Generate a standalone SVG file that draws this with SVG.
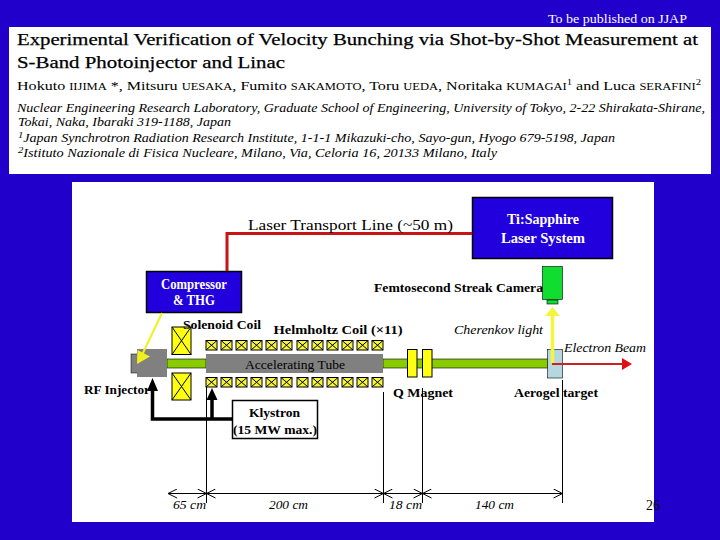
<svg xmlns="http://www.w3.org/2000/svg" width="720" height="540" viewBox="0 0 720 540">
<defs>
<style>
text{font-family:"Liberation Serif","DejaVu Serif",serif;fill:#000}
.hd{font-size:17px;stroke:#000;stroke-width:.25}
.au{font-size:13.5px}
.af{font-size:12px;font-style:italic}
.sc{font-size:10.5px}
.sup{font-size:9px}
.lb{font-size:13px;font-weight:bold}
.it{font-size:12.5px;font-style:italic}
.wt{fill:#fff;font-size:14px;font-weight:bold}
.coil{fill:#f5f53c;stroke:#000;stroke-width:1}
.big{fill:#ffff14;stroke:#000;stroke-width:1}
.gray{fill:#808080}
.pipe{fill:#88cc00;stroke:#000;stroke-width:.6}
.dim{stroke:#000;stroke-width:1;fill:none}
.box{fill:#2200dd;stroke:#000;stroke-width:1.5}
</style>
<marker id="o" viewBox="0 0 10 10" refX="10" refY="5" markerWidth="10" markerHeight="10" orient="auto-start-reverse" markerUnits="userSpaceOnUse"><path d="M1 .5L10 5L1 9.500" fill="none" stroke="#000" stroke-width="1"/></marker>
<g id="c"><rect class="coil" x="0" y="0" width="11" height="9.500"/><path d="M0 0L11 9.500M11 0L0 9.500" stroke="#000" stroke-width="1"/></g>
</defs>
<rect width="720" height="540" fill="#2200cc"/>
<rect x="9" y="27" width="702" height="147" fill="#fff"/>
<rect x="72" y="182" width="582" height="340" fill="#fff"/>
<text x="548" y="23" font-size="13" style="fill:#fff" textLength="139" lengthAdjust="spacingAndGlyphs">To be published on JJAP</text>
<g id="header">
<text class="hd" x="17" y="45" textLength="681" lengthAdjust="spacingAndGlyphs">Experimental Verification of Velocity Bunching via Shot-by-Shot Measurement at</text>
<text class="hd" x="17" y="68" textLength="268" lengthAdjust="spacingAndGlyphs">S-Band Photoinjector and Linac</text>
<text class="au" x="17" y="90" textLength="684" lengthAdjust="spacingAndGlyphs">Hokuto <tspan class="sc">IIJIMA</tspan> *, Mitsuru <tspan class="sc">UESAKA</tspan>, Fumito <tspan class="sc">SAKAMOTO</tspan>, Toru <tspan class="sc">UEDA</tspan>, Noritaka <tspan class="sc">KUMAGAI</tspan><tspan class="sup" dy="-5">1</tspan><tspan dy="5"> and Luca </tspan><tspan class="sc">SERAFINI</tspan><tspan class="sup" dy="-5">2</tspan></text>
<text class="af" x="17" y="112" textLength="688" lengthAdjust="spacingAndGlyphs">Nuclear Engineering Research Laboratory, Graduate School of Engineering, University of Tokyo, 2-22 Shirakata-Shirane,</text>
<text class="af" x="18" y="126" textLength="213" lengthAdjust="spacingAndGlyphs">Tokai, Naka, Ibaraki 319-1188, Japan</text>
<text class="af" x="18" y="142" textLength="597" lengthAdjust="spacingAndGlyphs"><tspan class="sup" dy="-4">1</tspan><tspan dy="4">Japan Synchrotron Radiation Research Institute, 1-1-1 Mikazuki-cho, Sayo-gun, Hyogo 679-5198, Japan</tspan></text>
<text class="af" x="18" y="157" textLength="479" lengthAdjust="spacingAndGlyphs"><tspan class="sup" dy="-4">2</tspan><tspan dy="4">Istituto Nazionale di Fisica Nucleare, Milano, Via, Celoria 16, 20133 Milano, Italy</tspan></text>
</g>
<g id="beamline">
<rect class="pipe" x="167" y="359" width="39" height="9"/>
<rect class="pipe" x="383" y="359" width="165" height="9"/>
</g>
<g id="rf-injector"><rect class="gray" x="131" y="354" width="8" height="19" stroke="#000" stroke-width=".5"/><rect class="gray" x="137" y="349" width="30" height="28"/></g>
<g id="tube"><rect class="gray" x="206" y="354" width="177" height="19"/><text x="245" y="369" font-size="13" textLength="100" lengthAdjust="spacingAndGlyphs">Accelerating Tube</text></g>
<g id="compressor"><rect class="box" x="146.500" y="271.500" width="95" height="41"/><text class="wt" x="161" y="289" textLength="66" lengthAdjust="spacingAndGlyphs">Compressor</text><text class="wt" x="173" y="305" textLength="42" lengthAdjust="spacingAndGlyphs">&amp; THG</text></g>
<g id="laser"><rect class="box" x="472.500" y="197.500" width="140" height="61"/><text class="wt" x="507" y="224" font-size="15" textLength="72" lengthAdjust="spacingAndGlyphs">Ti:Sapphire</text><text class="wt" x="501" y="243" textLength="84" lengthAdjust="spacingAndGlyphs">Laser System</text></g>
<g id="camera"><rect x="542.500" y="266.500" width="20" height="33" fill="#10dd30" stroke="#000" stroke-width=".6"/><rect x="547" y="300" width="11" height="4" fill="#10dd30" stroke="#000" stroke-width=".6"/></g>
<g id="solenoid">
<rect class="big" x="172" y="327" width="19" height="27.500"/><path d="M172 327L191 354.500M191 327L172 354.500" stroke="#000"/>
<rect class="big" x="172" y="373" width="19" height="27"/><path d="M172 373L191 400M191 373L172 400" stroke="#000"/>
</g>
<g id="helmholtz-top">
<use href="#c" x="206" y="340.500"/><use href="#c" x="221" y="340.500"/><use href="#c" x="236" y="340.500"/><use href="#c" x="251" y="340.500"/><use href="#c" x="266" y="340.500"/><use href="#c" x="281" y="340.500"/><use href="#c" x="297" y="340.500"/><use href="#c" x="312" y="340.500"/><use href="#c" x="327" y="340.500"/><use href="#c" x="342" y="340.500"/><use href="#c" x="357" y="340.500"/><use href="#c" x="372" y="340.500"/>
</g>
<g id="helmholtz-bottom">
<use href="#c" x="206" y="377.500"/><use href="#c" x="221" y="377.500"/><use href="#c" x="236" y="377.500"/><use href="#c" x="251" y="377.500"/><use href="#c" x="266" y="377.500"/><use href="#c" x="281" y="377.500"/><use href="#c" x="297" y="377.500"/><use href="#c" x="312" y="377.500"/><use href="#c" x="327" y="377.500"/><use href="#c" x="342" y="377.500"/><use href="#c" x="357" y="377.500"/><use href="#c" x="372" y="377.500"/>
</g>
<g id="q-magnet"><rect class="big" x="407.500" y="349.500" width="9.500" height="27.500"/><rect class="big" x="422.500" y="349.500" width="9.500" height="27.500"/></g>
<g id="aerogel"><rect x="547.500" y="349.500" width="15" height="28.500" fill="#b5d8e0" stroke="#000" stroke-width=".6"/></g>
<g id="connectors">
<path d="M472 233.500H227V271" fill="none" stroke="#c81414" stroke-width="3"/>
<path d="M162 313L142 355" stroke="#f0f020" stroke-width="2" fill="none"/>
<path d="M137 364L137.500 350L150 356.500Z" fill="#f0f020"/>
<path d="M552.500 363V314" stroke="#f5f53c" stroke-width="3.500" fill="none"/>
<path d="M552.500 307L560 316H545Z" fill="#f5f53c"/>
<path d="M552 364H623" stroke="#cc2222" stroke-width="2" fill="none"/>
<path d="M622 358L632 364L622 370Z" fill="#e01010"/>
<path d="M232 419H152.500V390M212 419V396" stroke="#000" stroke-width="3.500" fill="none"/>
<path d="M152.500 378L158 391H147Z M212 388L217.500 400H206.500Z" fill="#000"/>
<path class="dim" d="M206.500 387V503M383.500 392V503M422.500 388V503M562.500 380V503"/>
<path class="dim" d="M168 493.500H206.500" marker-start="url(#o)" marker-end="url(#o)"/>
<path class="dim" d="M206.500 493.500H383.500" marker-start="url(#o)" marker-end="url(#o)"/>
<path class="dim" d="M383.500 493.500H422.500" marker-start="url(#o)" marker-end="url(#o)"/>
<path class="dim" d="M422.500 493.500H562.500" marker-start="url(#o)" marker-end="url(#o)"/>
</g>
<g id="klystron"><rect x="232.500" y="400.500" width="85" height="38" fill="#fff" stroke="#000" stroke-width="1.500"/><text class="lb" x="249" y="417" font-size="14" textLength="51" lengthAdjust="spacingAndGlyphs">Klystron</text><text class="lb" x="233" y="434" textLength="84" lengthAdjust="spacingAndGlyphs">(15 MW max.)</text></g>
<g id="labels">
<text x="248" y="230" font-size="14.500" textLength="205" lengthAdjust="spacingAndGlyphs">Laser Transport Line (~50 m)</text>
<text class="lb" x="374" y="292" textLength="169" lengthAdjust="spacingAndGlyphs">Femtosecond Streak Camera</text>
<text class="lb" x="183" y="329" textLength="78" lengthAdjust="spacingAndGlyphs">Solenoid Coil</text>
<text class="lb" x="273.500" y="334" textLength="129" lengthAdjust="spacingAndGlyphs">Helmholtz Coil (×11)</text>
<text class="it" x="454" y="334" textLength="89" lengthAdjust="spacingAndGlyphs">Cherenkov light</text>
<text class="it" x="564" y="352" textLength="82" lengthAdjust="spacingAndGlyphs">Electron Beam</text>
<text class="lb" x="84" y="394" textLength="66" lengthAdjust="spacingAndGlyphs">RF Injector</text>
<text class="lb" x="393" y="397" textLength="60" lengthAdjust="spacingAndGlyphs">Q Magnet</text>
<text class="lb" x="514" y="397" textLength="84" lengthAdjust="spacingAndGlyphs">Aerogel target</text>
<text class="it" x="173" y="509" textLength="33" lengthAdjust="spacingAndGlyphs">65 cm</text>
<text class="it" x="269" y="509" textLength="39" lengthAdjust="spacingAndGlyphs">200 cm</text>
<text class="it" x="389" y="509" textLength="33" lengthAdjust="spacingAndGlyphs">18 cm</text>
<text class="it" x="475" y="509" textLength="39" lengthAdjust="spacingAndGlyphs">140 cm</text>
<text x="646" y="510" font-size="14">26</text>
</g>
</svg>
